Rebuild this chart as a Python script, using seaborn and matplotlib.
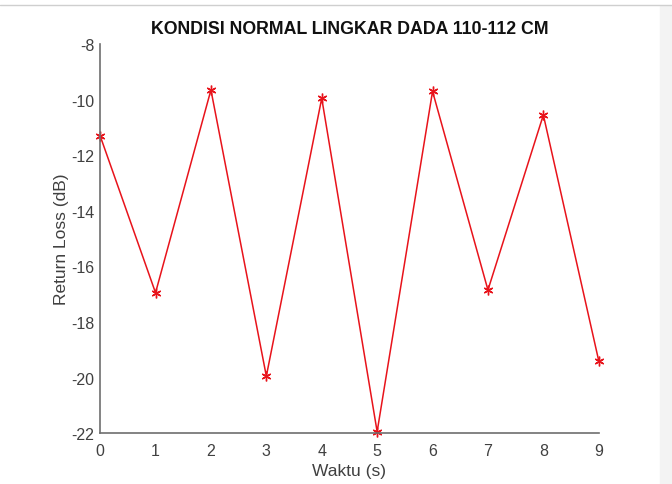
import matplotlib
matplotlib.use("Agg")
import matplotlib.pyplot as plt
import seaborn as sns
import pandas as pd

# data
waktu = [0, 1, 2, 3, 4, 5, 6, 7, 8, 9]
return_loss = [-11.3, -16.95, -9.65, -19.95, -9.95, -21.95, -9.7, -16.85, -10.55, -19.4]
x_ticks = [0, 1, 2, 3, 4, 5, 6, 7, 8, 9]
y_ticks = [-8, -10, -12, -14, -16, -18, -20, -22]

df = pd.DataFrame({"waktu": waktu, "return_loss": return_loss})

sns.set_style("white")
plt.rcParams['font.family'] = ['Liberation Sans', 'DejaVu Sans']
plt.rcParams['axes.unicode_minus'] = False

fig = plt.figure(figsize=(6.72, 4.85), dpi=100)
# page chrome around the MATLAB figure
fig.patches.append(plt.Rectangle((0.982, 0), 0.018, 0.985, transform=fig.transFigure,
                                 color="#f3f3f3", zorder=0))
fig.add_artist(plt.Line2D([0, 1], [0.987, 0.987], color="#cfcfcf", lw=1))

ax = fig.add_axes([0.149, 0.105, 0.742, 0.802])
sns.lineplot(data=df, x="waktu", y="return_loss", ax=ax, color="#e8131b", lw=1.1,
             marker=(6, 2, 0), markersize=7, markeredgecolor="#e8131b", markeredgewidth=1.0,
             clip_on=False)

ax.set_xlim(0, 9)
ax.set_ylim(-22, -8)
ax.set_xticks(x_ticks)
ax.set_yticks(y_ticks)
ax.tick_params(direction="in", length=3, colors="#4d4d4d", labelsize=11.5,
               labelcolor="#404040")
ax.tick_params(axis="x", pad=7)
ax.tick_params(axis="y", pad=4)
for s in ["top", "right"]:
    ax.spines[s].set_visible(False)
for s in ["left", "bottom"]:
    ax.spines[s].set_color("#6e6e6e")
    ax.spines[s].set_linewidth(1.2)

ax.set_xlabel("Waktu (s)", fontsize=12.5, color="#404040", labelpad=4)
ax.set_ylabel("Return Loss (dB)", fontsize=12.5, color="#404040", labelpad=2)
ax.set_title("KONDISI NORMAL LINGKAR DADA 110-112 CM", fontsize=12.8, fontweight="bold",
             color="#111111", pad=8)

fig.savefig("out.png", dpi=100)
